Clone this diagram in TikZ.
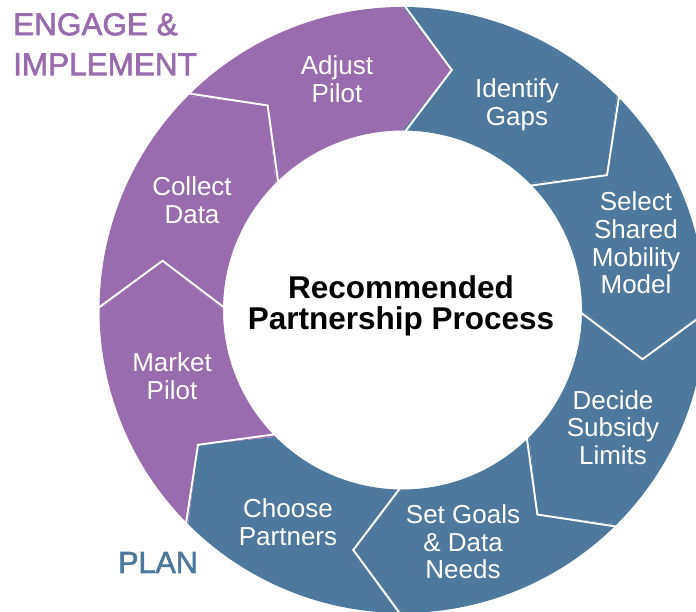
\documentclass[tikz,border=0pt]{standalone}
\usepackage{fontspec}
\setmainfont{Liberation Sans}
\newfontfamily\titlefont[FakeBold=2]{Liberation Sans}
\definecolor{ppurple}{RGB}{152,108,174}
\definecolor{pblue}{RGB}{77,121,158}
\newcommand\ringseg[3]{%
  \fill[#3] (#1:303pt) arc[start angle=#1, end angle=#2, radius=303pt]
    -- ({#2-11.6}:245pt) -- (#2:179.5pt)
    arc[start angle=#2, end angle=#1, radius=179.5pt]
    -- ({#1-11.6}:245pt) -- cycle;}
\begin{document}
\begin{tikzpicture}[x=1pt,y=1pt,
  seglabel/.style={text=white, align=center, font=\fontsize{26}{27.6}\selectfont, inner sep=0pt, anchor=center},
  centertext/.style={text=black, align=center, font=\bfseries\fontsize{31.5}{31}\selectfont, inner sep=0pt, anchor=center},
  gaplines/.style={white, line width=1.9pt},
  phasetitle/.style={inner sep=0pt, align=left}]
\useasboundingbox (0,0) rectangle (696,612);
\clip (0,0) rectangle (696,612);
\coordinate (C) at (402.5,302);
\begin{scope}[shift={(C)}]
  \ringseg{135}{90}{ppurple}
  \ringseg{90}{45}{pblue}
  \ringseg{45}{0}{pblue}
  \ringseg{0}{-45}{pblue}
  \ringseg{-45}{-90}{pblue}
  \ringseg{-90}{-135}{pblue}
  \ringseg{-135}{-180}{ppurple}
  \ringseg{180}{135}{ppurple}
  \foreach \a in {90,45,0,-45,-90,-135,180,135}
    \draw[gaplines] (\a:307pt) -- ({\a-11.6}:245pt) -- (\a:175pt);
\end{scope}
\node[seglabel] (adjust) at (337,532.5) {Adjust\\Pilot};
\node[seglabel] (identify) at (517,507) {Identify\\Gaps};
\node[seglabel] (select) at (636,369) {Select\\Shared\\Mobility\\Model};
\node[seglabel] (decide) at (613,184.5) {Decide\\Subsidy\\Limits};
\node[seglabel] (setgoals) at (463,70) {Set Goals\\\& Data\\Needs};
\node[seglabel] (choose) at (288,89.5) {Choose\\Partners};
\node[seglabel] (market) at (172,236) {Market\\Pilot};
\node[seglabel] (collect) at (192,412) {Collect\\Data};
\node[centertext] (process) at (401,306.5) {Recommended\\Partnership Process};
\node[phasetitle, text=ppurple, anchor=north west, font=\titlefont\fontsize{31.5}{40}\selectfont] (engage) at (13,599) {ENGAGE \&\\IMPLEMENT};
\node[phasetitle, text=pblue, anchor=base west, font=\titlefont\fontsize{30.5}{36}\selectfont] (plan) at (118,39) {PLAN};
\end{tikzpicture}
\end{document}
